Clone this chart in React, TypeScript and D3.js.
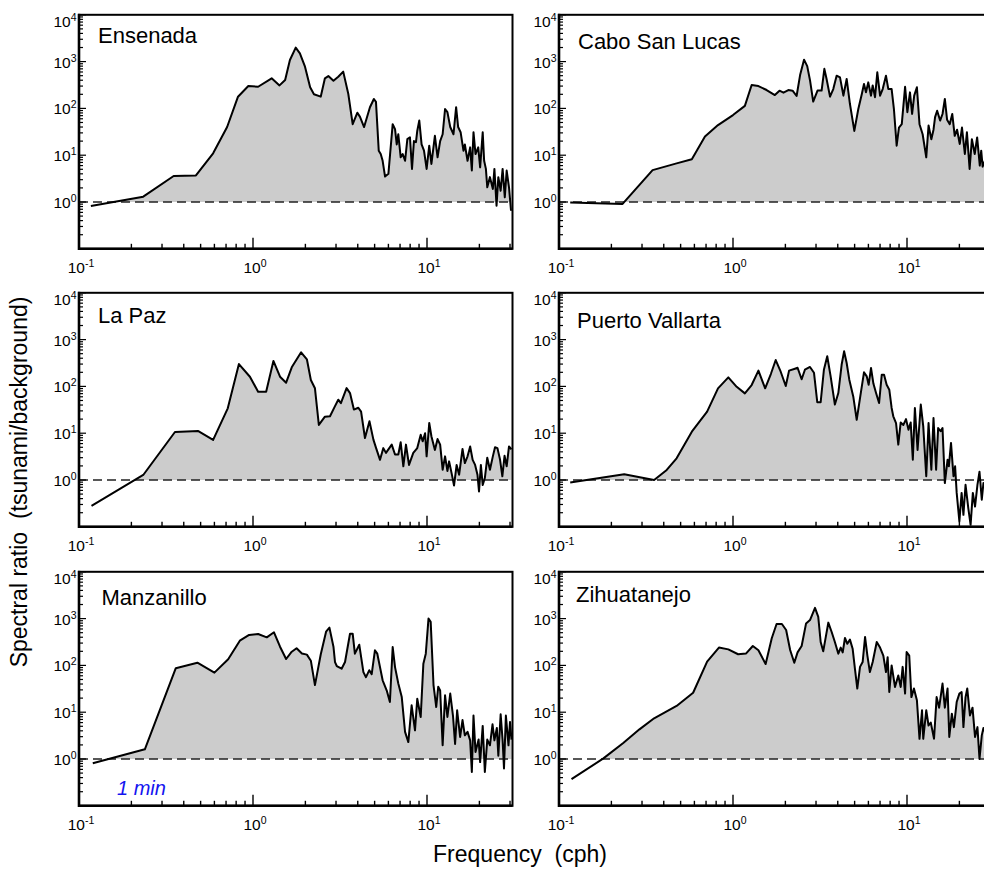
import React from "react";
import * as d3 from "d3";

type Pt = [number, number]; // [frequency (cph), spectral ratio]

// ---------- data ----------
const stationNames = ["Ensenada", "Cabo San Lucas", "La Paz", "Puerto Vallarta", "Manzanillo", "Zihuatanejo"];

const ensenada: Pt[] = [
  [0.117, 0.82], [0.234, 1.3], [0.35, 3.6], [0.47, 3.7], [0.59, 11], [0.71, 40], [0.82, 178], [0.94, 300],
  [1.07, 290], [1.28, 440], [1.42, 310], [1.53, 405], [1.63, 1080], [1.76, 1990], [1.86, 1500], [1.99, 780],
  [2.13, 282], [2.24, 200], [2.45, 178], [2.59, 440], [2.71, 490], [2.9, 390], [3.09, 475], [3.3, 610],
  [3.53, 203], [3.74, 46], [3.98, 81], [4.12, 66], [4.35, 40], [4.7, 106], [4.95, 159], [5.09, 138],
  [5.28, 12.5], [5.42, 10.6], [5.56, 7.6], [5.74, 3.5], [6.0, 4.0], [6.35, 46], [6.55, 36], [6.7, 17],
  [6.84, 28], [7.06, 9], [7.25, 10.6], [7.48, 7.6], [7.71, 22], [7.98, 24], [8.2, 5.1], [8.41, 20],
  [8.64, 19], [8.79, 33], [9.03, 55], [9.31, 17], [9.61, 12.5], [9.95, 5.1], [10.3, 16], [10.6, 6.5],
  [11.1, 26], [11.5, 9], [11.9, 20], [12.3, 28], [12.7, 97], [13.1, 83], [13.6, 40], [14.2, 28],
  [14.7, 106], [15.1, 40], [15.6, 31], [16.2, 12.5], [16.5, 17], [17.1, 7.6], [17.7, 14.7], [18.1, 4.7],
  [18.5, 31], [19.0, 10.6], [19.7, 14.7], [20.2, 5.5], [20.9, 31], [21.3, 7.6], [21.8, 5.1], [22.2, 2.06],
  [23.0, 3.4], [23.9, 1.9], [24.4, 5.1], [25.1, 0.83], [25.7, 3.4], [26.5, 1.74], [27.2, 5.1], [28.0, 1.26],
  [28.7, 4.7], [29.6, 2.06], [30.4, 0.65],
];

const caboSanLucas: Pt[] = [
  [0.116, 0.97], [0.232, 0.91], [0.345, 4.8], [0.474, 6.7], [0.58, 8.2], [0.69, 25], [0.82, 44], [1.0, 72],
  [1.17, 113], [1.28, 316], [1.4, 300], [1.56, 247], [1.74, 193], [1.85, 239], [1.95, 217], [2.08, 247],
  [2.2, 239], [2.32, 184], [2.43, 516], [2.56, 1100], [2.67, 800], [2.77, 400], [2.89, 140], [3.06, 240],
  [3.23, 240], [3.35, 700], [3.45, 425], [3.61, 178], [3.77, 259], [3.94, 500], [4.12, 460], [4.31, 187],
  [4.5, 425], [4.7, 124], [4.98, 33], [5.25, 97], [5.5, 203], [5.66, 331], [5.81, 222], [5.99, 360],
  [6.21, 187], [6.35, 310], [6.55, 173], [6.75, 590], [7.0, 187], [7.25, 259], [7.57, 500], [7.81, 259],
  [8.16, 259], [8.41, 97], [8.72, 16], [8.99, 39], [9.33, 46], [9.75, 290], [10.05, 83], [10.4, 220],
  [10.7, 76], [11.0, 187], [11.4, 283], [11.8, 46], [12.3, 28], [12.9, 9], [13.3, 43], [13.8, 22],
  [14.2, 35], [14.5, 65], [14.9, 89], [15.5, 55], [16.0, 76], [16.5, 159], [17.0, 57], [17.6, 46],
  [18.2, 76], [18.8, 26], [19.4, 35], [20.1, 17.4], [20.7, 39], [21.5, 10.6], [22.1, 31], [22.9, 5.1],
  [23.6, 22], [24.5, 10.6], [25.3, 24], [26.2, 6], [26.7, 12.5], [27.2, 5.7], [28.5, 9], [29.5, 5], [30.5, 7],
];

const laPaz: Pt[] = [
  [0.118, 0.28], [0.234, 1.28], [0.356, 10.6], [0.485, 11.1], [0.59, 7.2], [0.716, 34], [0.83, 300], [0.96, 161],
  [1.07, 77], [1.19, 77], [1.31, 350], [1.43, 161], [1.55, 120], [1.67, 256], [1.89, 535], [2.04, 380],
  [2.15, 137], [2.27, 91], [2.39, 15], [2.59, 22.5], [2.77, 23], [2.96, 38], [3.09, 52], [3.2, 44],
  [3.45, 92], [3.61, 72], [3.8, 32], [4.03, 35], [4.18, 29], [4.4, 7.9], [4.67, 18], [4.92, 7.3],
  [5.1, 4.8], [5.37, 2.7], [5.61, 4.8], [5.81, 3.8], [6.27, 5.7], [6.55, 3.5], [6.84, 3.5], [7.06, 6.4],
  [7.31, 1.96], [7.57, 5.7], [7.88, 2.1], [8.34, 3.8], [8.79, 4.8], [9.2, 9.3], [9.44, 6.7], [9.75, 10],
  [9.95, 3.2], [10.3, 16.5], [10.6, 8.6], [11.1, 4.4], [11.5, 7.5], [11.9, 5.7], [12.3, 1.66], [12.7, 3.2],
  [13.1, 1.56], [13.4, 2.5], [13.9, 1.3], [14.3, 0.76], [14.8, 2.1], [15.3, 1.3], [16.0, 4.6], [16.5, 2.3],
  [17.1, 3.2], [17.7, 5.2], [18.3, 2.7], [18.9, 2.1], [19.5, 1.3], [19.9, 0.57], [20.4, 2.1], [20.9, 0.78],
  [21.5, 1.1], [22.2, 3.0], [23.0, 1.66], [23.9, 3.2], [24.6, 5.0], [25.4, 4.8], [26.3, 2.7], [27.1, 1.2],
  [27.9, 3.3], [28.7, 1.96], [29.6, 5.2], [30.6, 4.5],
];

const puertoVallarta: Pt[] = [
  [0.116, 0.88], [0.237, 1.32], [0.352, 1.0], [0.416, 1.64], [0.474, 2.9], [0.58, 10.8], [0.71, 29], [0.82, 91],
  [0.94, 156], [1.05, 98], [1.17, 71], [1.28, 107], [1.4, 217], [1.53, 91], [1.65, 184], [1.76, 366],
  [1.88, 206], [2.01, 102], [2.1, 217], [2.27, 239], [2.35, 250], [2.48, 142], [2.59, 227], [2.77, 260],
  [2.92, 196], [3.05, 46], [3.19, 46], [3.33, 227], [3.48, 440], [3.64, 164], [3.85, 41], [4.03, 72],
  [4.21, 290], [4.35, 562], [4.5, 316], [4.66, 139], [4.91, 61], [5.14, 19.4], [5.37, 56], [5.66, 200],
  [5.87, 164], [6.02, 108], [6.21, 247], [6.41, 115], [6.64, 72], [6.91, 44], [7.16, 178], [7.38, 178],
  [7.64, 108], [7.91, 85], [8.16, 34.6], [8.34, 23], [8.65, 16.5], [8.91, 5.7], [9.2, 17], [9.53, 15],
  [9.87, 20], [10.2, 11.9], [10.5, 17], [10.8, 2.7], [11.1, 34.6], [11.5, 4.4], [12.0, 41], [12.4, 14],
  [12.9, 1.2], [13.3, 16.5], [13.8, 1.66], [14.2, 21], [14.7, 1.66], [15.1, 12.9], [15.6, 11], [16.0, 12.9],
  [16.5, 0.86], [17.1, 2.7], [17.4, 1.96], [17.9, 6.2], [18.5, 1.2], [18.9, 1.96], [19.3, 0.53], [20.0, 0.13],
  [20.6, 0.53], [21.1, 0.18], [21.7, 0.79], [22.5, 0.25], [23.2, 0.11], [23.9, 0.53], [24.6, 0.27], [25.4, 0.79],
  [26.1, 1.5], [26.9, 0.38], [27.5, 0.86], [29.0, 0.45], [30.5, 0.7],
];

const manzanillo: Pt[] = [
  [0.12, 0.81], [0.239, 1.61], [0.36, 87], [0.479, 114], [0.6, 70], [0.72, 135], [0.84, 337], [0.95, 447],
  [1.07, 470], [1.2, 398], [1.32, 510], [1.43, 251], [1.55, 137], [1.67, 196], [1.78, 232], [1.91, 179],
  [2.04, 170], [2.15, 126], [2.27, 38], [2.45, 171], [2.63, 525], [2.75, 640], [2.9, 251], [2.96, 118],
  [3.03, 97], [3.23, 85], [3.38, 118], [3.61, 475], [3.74, 475], [3.85, 178], [4.08, 277], [4.31, 72],
  [4.46, 56], [4.66, 79], [4.81, 65], [5.02, 210], [5.18, 178], [5.56, 48], [5.87, 29], [6.12, 16.5],
  [6.35, 247], [6.55, 92], [6.84, 41], [7.16, 21], [7.48, 3.8], [7.81, 2.3], [8.16, 14], [8.53, 4.1],
  [8.79, 19.4], [9.2, 7.9], [9.53, 109], [9.84, 178], [10.2, 1000], [10.5, 850], [10.9, 38], [11.3, 12.9],
  [11.6, 35], [11.9, 29], [12.3, 1.96], [12.7, 23], [13.1, 7.9], [13.6, 25], [14.1, 8.5], [14.5, 2.1],
  [14.9, 11], [15.5, 2.95], [16.0, 6.8], [16.5, 3.2], [17.1, 3.8], [17.7, 2.5], [18.1, 0.53], [18.5, 8.5],
  [19.0, 1.41], [19.8, 2.6], [20.2, 0.86], [20.9, 5.1], [21.5, 0.53], [22.2, 2.6], [23.0, 1.96], [23.8, 5.5],
  [24.4, 2.5], [25.2, 4.6], [25.7, 1.17], [26.5, 9.0], [27.2, 2.5], [27.7, 0.63], [28.4, 8.5], [29.4, 1.96],
  [30.0, 6.2], [30.6, 2.6],
];

const zihuatanejo: Pt[] = [
  [0.118, 0.37], [0.18, 1.03], [0.234, 2.2], [0.29, 4.3], [0.352, 7.4], [0.474, 13.6], [0.59, 26], [0.71, 120],
  [0.83, 240], [0.94, 220], [1.07, 173], [1.19, 180], [1.3, 260], [1.4, 210], [1.54, 107], [1.67, 380],
  [1.78, 767], [1.91, 767], [2.02, 570], [2.13, 213], [2.25, 114], [2.35, 190], [2.48, 260], [2.63, 790],
  [2.77, 930], [2.96, 1700], [3.09, 1090], [3.19, 316], [3.3, 200], [3.53, 820], [3.69, 517], [3.85, 316],
  [4.03, 178], [4.16, 240], [4.27, 190], [4.4, 385], [4.54, 290], [4.7, 355], [4.87, 227], [5.02, 85],
  [5.18, 32], [5.37, 93], [5.56, 118], [5.74, 405], [5.92, 162], [6.12, 72], [6.35, 118], [6.7, 316],
  [7.0, 240], [7.31, 162], [7.57, 72], [7.74, 150], [7.91, 27], [8.16, 100], [8.53, 34.6], [8.91, 61],
  [9.2, 34.6], [9.44, 93], [9.75, 25], [9.95, 193], [10.3, 162], [10.6, 21], [10.96, 32], [11.4, 18],
  [11.8, 2.7], [12.2, 11], [12.4, 2.7], [12.9, 11], [13.3, 5.2], [13.7, 6], [14.3, 2.7], [14.8, 21],
  [15.3, 12.5], [16.0, 41], [16.5, 12.5], [17.1, 32], [17.5, 2.95], [18.1, 9.3], [18.6, 4.8], [19.3, 16.5],
  [20.0, 25], [20.6, 27], [21.1, 4.8], [21.7, 21], [22.2, 32], [23.0, 8.5], [23.8, 12.5], [24.6, 2.95],
  [25.4, 4.8], [26.1, 1.0], [26.9, 3.2], [27.5, 4.6], [29.0, 3], [30.5, 4],
];

const stationData = [ensenada, caboSanLucas, laPaz, puertoVallarta, manzanillo, zihuatanejo];

const xDomain = [0.1, 31];
const yDomain = [0.1, 1e4];
const xTickValues = [0.1, 1, 10];
const xTickExps = ["-1", "0", "1"];
const yTickValues = [1, 10, 100, 1000, 10000];
const yTickExps = ["0", "1", "2", "3", "4"];
const xTitle = "Frequency  (cph)";
const yTitle = "Spectral ratio  (tsunami/background)";
const noteText = "1 min";

// ---------- layout ----------
const W = 984;
const H = 869;
const colX = [79, 559];
const rowY = [14.8, 292.8, 571.8];
const PW = 433.5;
const PH = 234;
const titleOffset: [number, number][] = [[19, 28.5], [19, 34.5], [19, 30], [18, 35.5], [22.5, 33], [17, 30]];
const FONT = "'Liberation Sans', Arial, Helvetica, sans-serif";

// put a point where the curve crosses 1 so the grey fill stops on the dashed line
function withCrossings(data: Pt[]): Pt[] {
  const out: Pt[] = [];
  data.forEach((d, i) => {
    if (i > 0) {
      const p = data[i - 1];
      if ((p[1] - 1) * (d[1] - 1) < 0) {
        const lp = Math.log10(p[1]);
        const t = -lp / (Math.log10(d[1]) - lp);
        const lf = Math.log10(p[0]) + t * (Math.log10(d[0]) - Math.log10(p[0]));
        out.push([Math.pow(10, lf), 1]);
      }
    }
    out.push(d);
  });
  return out;
}

const isDecade = (v: number) => Math.abs(Math.log10(v) - Math.round(Math.log10(v))) < 1e-9;

function Panel({ index }: { index: number }) {
  const col = index % 2;
  const row = Math.floor(index / 2);
  const x0 = colX[col];
  const y0 = rowY[row];

  const xs = d3.scaleLog().domain(xDomain).range([x0, x0 + PW]);
  const ys = d3.scaleLog().domain(yDomain).range([y0 + PH, y0]);

  const data = stationData[index];
  const line = d3.line<Pt>().x(d => xs(d[0])).y(d => ys(d[1]));
  const area = d3.area<Pt>()
    .x(d => xs(d[0]))
    .y0(ys(1))
    .y1(d => ys(Math.max(d[1], 1)));

  const xTicks = xs.ticks().filter(t => t > xDomain[0] * 1.001);
  const yTicks = ys.ticks().filter(t => t > yDomain[0] * 1.001);
  const clipId = `clip-${index}`;
  const bottom = y0 + PH;

  return (
    <g>
      <defs>
        <clipPath id={clipId}>
          <rect x={x0} y={y0} width={PW} height={PH} />
        </clipPath>
      </defs>

      <g clipPath={`url(#${clipId})`}>
        <path d={area(withCrossings(data)) || ""} fill="#cccccc" />
        <line x1={x0} x2={x0 + PW} y1={ys(1)} y2={ys(1)} stroke="#222" strokeWidth={1.3} strokeDasharray="9 5" />
        <path d={line(data) || ""} fill="none" stroke="#000" strokeWidth={2} strokeLinejoin="round" />
      </g>

      {/* frame */}
      <rect x={x0} y={y0} width={PW} height={PH} fill="none" stroke="#000" strokeWidth={2} />
      <line x1={x0} x2={x0} y1={y0 - 1} y2={bottom + 1.2} stroke="#000" strokeWidth={2.6} />
      <line x1={x0} x2={x0 + PW} y1={bottom} y2={bottom} stroke="#000" strokeWidth={2.6} />

      {/* x ticks */}
      {xTicks.map(t => (
        <line key={`x${t}`} x1={xs(t)} x2={xs(t)} y1={bottom} y2={bottom - (isDecade(t) ? 11 : 5)}
          stroke="#000" strokeWidth={1.4} />
      ))}
      {xTickValues.map((t, i) => (
        <text key={`xl${t}`} x={xs(t) + 2} y={bottom + 24} textAnchor="middle" fontSize={15.5} fontFamily={FONT}>
          10<tspan dy={-6} fontSize={10.5}>{xTickExps[i]}</tspan>
        </text>
      ))}

      {/* y ticks */}
      {yTicks.map(t => (
        <line key={`y${t}`} x1={x0} x2={x0 + (isDecade(t) ? 7 : 4)} y1={ys(t)} y2={ys(t)}
          stroke="#000" strokeWidth={1.2} />
      ))}
      {yTickValues.map((t, i) => (
        <text key={`yl${t}`} x={x0 - 2.5} y={ys(t) + (i === yTickValues.length - 1 ? 12 : 6)}
          textAnchor="end" fontSize={15.5} fontFamily={FONT}>
          10<tspan dy={-6} fontSize={10.5}>{yTickExps[i]}</tspan>
        </text>
      ))}

      <text x={x0 + titleOffset[index][0]} y={y0 + titleOffset[index][1]} fontSize={22} fontFamily={FONT}>
        {stationNames[index]}
      </text>
    </g>
  );
}

export default function App() {
  return (
    <svg width={W} height={H} style={{ position: "absolute", left: 0, top: 0, display: "block", background: "#fff" }}>
      {stationNames.map((_, i) => <Panel key={i} index={i} />)}

      <text x={117} y={795} fontSize={20} fontStyle="italic" fill="#1414f0" fontFamily={FONT}>{noteText}</text>

      <text x={520} y={862} textAnchor="middle" fontSize={23} fontFamily={FONT} style={{ whiteSpace: "pre" }}>
        {xTitle}
      </text>
      <text transform="translate(27,482) rotate(-90)" textAnchor="middle" fontSize={23} fontFamily={FONT}
        style={{ whiteSpace: "pre" }}>
        {yTitle}
      </text>
    </svg>
  );
}
